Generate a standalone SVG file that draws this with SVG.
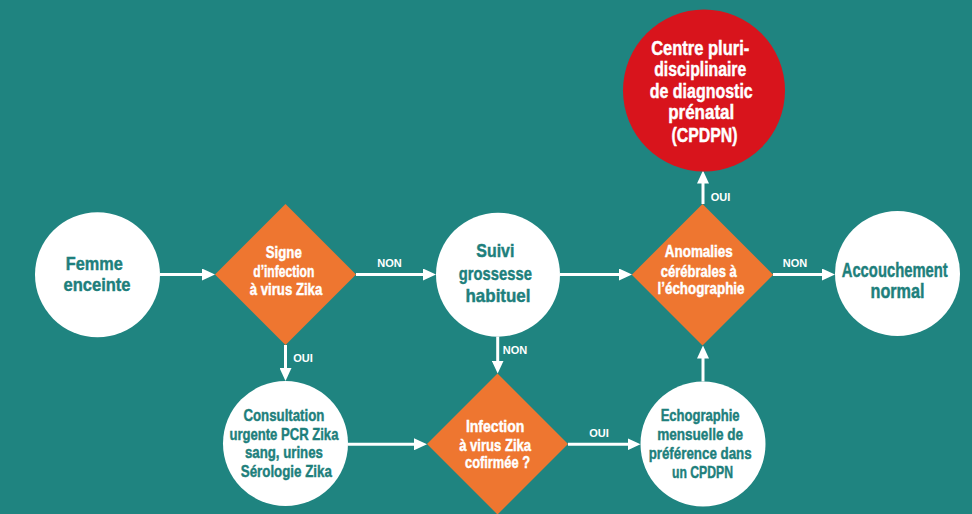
<svg xmlns="http://www.w3.org/2000/svg" width="972" height="514" viewBox="0 0 972 514">
  <style>
    .bg { fill: #1F8480; }
    .circle { fill: #FFFFFF; }
    .decision { fill: #EE7630; }
    .center { fill: #D8141C; }
    .t { font-family: "Liberation Sans", Arial, sans-serif; font-weight: bold; text-anchor: middle; stroke-width: 0.45; }
    .dark { fill: #1E7F7C; stroke: #1E7F7C; }
    .light { fill: #FFFFFF; stroke: #FFFFFF; }
    .mid { font-size: 17px; }
    .dia { font-size: 16px; }
    .red { font-size: 20px; }
    .lbl { font-family: "Liberation Sans", Arial, sans-serif; font-weight: bold; font-size: 11px; fill: #FFFFFF; text-anchor: middle; }
    .edge { stroke: #FFFFFF; stroke-width: 3; fill: none; marker-end: url(#head); }
  </style>
  <defs>
    <marker id="head" viewBox="0 0 13 12" refX="6" refY="6" markerWidth="13" markerHeight="12" markerUnits="userSpaceOnUse" orient="auto">
      <path d="M0,0 L13,6 L0,12 z" fill="#FFFFFF"/>
    </marker>
  </defs>

  <rect class="bg" x="0" y="0" width="972" height="514"/>

  <!-- connectors -->
  <g id="connectors">
    <line class="edge" x1="160" y1="274.5" x2="208" y2="274.5"/>
    <line class="edge" x1="356" y1="274.5" x2="429" y2="274.5"/>
    <line class="edge" x1="560" y1="274.5" x2="625" y2="274.5"/>
    <line class="edge" x1="773" y1="274.5" x2="828" y2="274.5"/>
    <line class="edge" x1="703" y1="204" x2="703" y2="177.5"/>
    <line class="edge" x1="285.5" y1="345" x2="285.5" y2="374"/>
    <line class="edge" x1="497.7" y1="336.7" x2="497.7" y2="366.5"/>
    <line class="edge" x1="348" y1="444.3" x2="420" y2="444.3"/>
    <line class="edge" x1="568" y1="444.3" x2="633.5" y2="444.3"/>
    <line class="edge" x1="703" y1="381.5" x2="703" y2="352.5"/>
    <text class="lbl" x="389.5" y="266.5">NON</text>
    <text class="lbl" x="303" y="362">OUI</text>
    <text class="lbl" x="515" y="354">NON</text>
    <text class="lbl" x="599" y="436.5">OUI</text>
    <text class="lbl" x="720.5" y="200.5">OUI</text>
    <text class="lbl" x="795" y="266.5">NON</text>
  </g>

  <!-- start -->
  <g id="femme">
    <circle class="circle" cx="97.5" cy="274.7" r="62.5"/>
    <text class="t dark" style="font-size:19px">
      <tspan x="97" y="270" textLength="57" lengthAdjust="spacingAndGlyphs">Femme</tspan>
      <tspan x="97" y="291" textLength="67" lengthAdjust="spacingAndGlyphs">enceinte</tspan>
    </text>
  </g>

  <g id="signe">
    <polygon class="decision" points="285.5,204 356,274.5 285.5,345 215,274.5"/>
    <text class="t light dia">
      <tspan x="286" y="258.3" textLength="36" lengthAdjust="spacingAndGlyphs">Signe</tspan>
      <tspan x="286" y="277.3" textLength="61" lengthAdjust="spacingAndGlyphs">d’infection</tspan>
      <tspan x="286" y="295" textLength="72.5" lengthAdjust="spacingAndGlyphs">à virus Zika</tspan>
    </text>
  </g>

  <g id="suivi">
    <circle class="circle" cx="498" cy="274.7" r="62"/>
    <text class="t dark" style="font-size:19px">
      <tspan x="498" y="257.3" textLength="38" lengthAdjust="spacingAndGlyphs">Suivi</tspan>
      <tspan x="498" y="280" textLength="73" lengthAdjust="spacingAndGlyphs">grossesse</tspan>
      <tspan x="498" y="301.7" textLength="65" lengthAdjust="spacingAndGlyphs">habituel</tspan>
    </text>
  </g>

  <g id="anomalies">
    <polygon class="decision" points="702.5,204 773.2,274.7 702.5,345.4 631.8,274.7"/>
    <text class="t light dia">
      <tspan x="701" y="257.3" textLength="68" lengthAdjust="spacingAndGlyphs">Anomalies</tspan>
      <tspan x="701" y="276.7" textLength="76" lengthAdjust="spacingAndGlyphs">cérébrales à</tspan>
      <tspan x="701" y="294.3" textLength="87" lengthAdjust="spacingAndGlyphs">l’échographie</tspan>
    </text>
  </g>

  <g id="accouchement">
    <circle class="circle" cx="897.5" cy="273.5" r="62.5"/>
    <text class="t dark" style="font-size:20px">
      <tspan x="897.5" y="276.7" textLength="106" lengthAdjust="spacingAndGlyphs">Accouchement</tspan>
      <tspan x="897.5" y="298.3" textLength="54" lengthAdjust="spacingAndGlyphs">normal</tspan>
    </text>
  </g>

  <g id="cpdpn">
    <circle class="center" cx="704" cy="90.5" r="81"/>
    <text class="t light red">
      <tspan x="703" y="55" textLength="98" lengthAdjust="spacingAndGlyphs">Centre pluri-</tspan>
      <tspan x="703" y="76" textLength="92" lengthAdjust="spacingAndGlyphs">disciplinaire</tspan>
      <tspan x="704" y="98" textLength="103" lengthAdjust="spacingAndGlyphs">de diagnostic</tspan>
      <tspan x="704" y="119.3" textLength="66" lengthAdjust="spacingAndGlyphs">prénatal</tspan>
      <tspan x="704.5" y="141.5" textLength="66" lengthAdjust="spacingAndGlyphs">(CPDPN)</tspan>
    </text>
  </g>

  <g id="consultation">
    <circle class="circle" cx="285.5" cy="443.5" r="62.5"/>
    <text class="t dark mid">
      <tspan x="286.3" y="421" textLength="81" lengthAdjust="spacingAndGlyphs">Consultation</tspan>
      <tspan x="286.3" y="440" textLength="109" lengthAdjust="spacingAndGlyphs">urgente PCR Zika</tspan>
      <tspan x="286.3" y="458.3" textLength="78" lengthAdjust="spacingAndGlyphs">sang, urines</tspan>
      <tspan x="286.3" y="477.3" textLength="91" lengthAdjust="spacingAndGlyphs">Sérologie Zika</tspan>
    </text>
  </g>

  <g id="infection">
    <polygon class="decision" points="497.5,373.5 568,444 497.5,514.5 427,444"/>
    <text class="t light" style="font-size:17px">
      <tspan x="497.5" y="431.7" textLength="58.5" lengthAdjust="spacingAndGlyphs">Infection</tspan>
      <tspan x="497.5" y="450.7" textLength="72" lengthAdjust="spacingAndGlyphs">à virus Zika</tspan>
      <tspan x="497.5" y="468.3" textLength="65" lengthAdjust="spacingAndGlyphs">cofirmée ?</tspan>
    </text>
  </g>

  <g id="echographie">
    <circle class="circle" cx="703" cy="444" r="62.5"/>
    <text class="t dark mid">
      <tspan x="702.5" y="421" textLength="79" lengthAdjust="spacingAndGlyphs">Echographie</tspan>
      <tspan x="702.5" y="440" textLength="86" lengthAdjust="spacingAndGlyphs">mensuelle de</tspan>
      <tspan x="702.5" y="458.5" textLength="103" lengthAdjust="spacingAndGlyphs">préférence dans</tspan>
      <tspan x="702.5" y="477.5" textLength="61" lengthAdjust="spacingAndGlyphs">un CPDPN</tspan>
    </text>
  </g>
</svg>
